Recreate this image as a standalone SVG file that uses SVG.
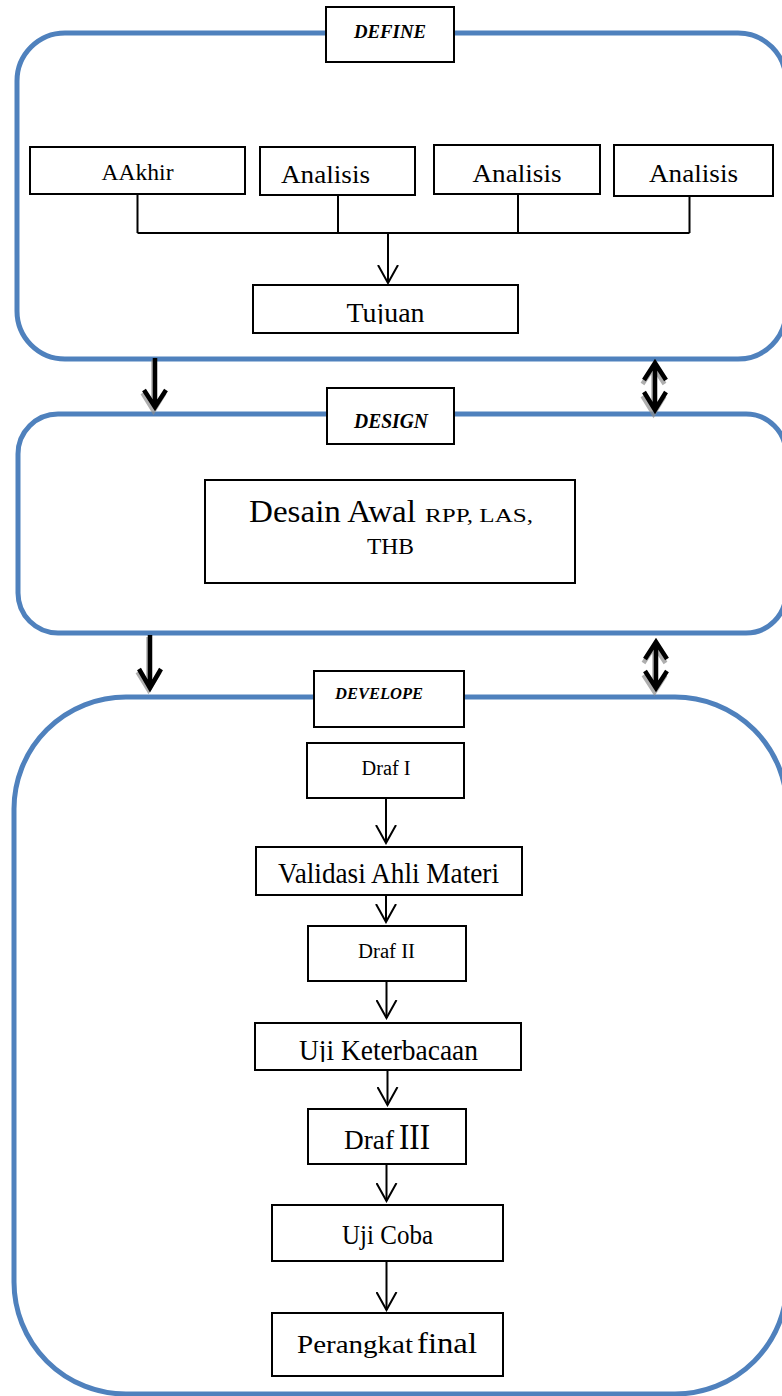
<svg xmlns="http://www.w3.org/2000/svg" width="782" height="1396" viewBox="0 0 782 1396">
<style>
.cont{fill:none;stroke:#4F81BD;stroke-width:5}
.box{fill:#fff;stroke:#000;stroke-width:2}
.t{font-family:"Liberation Serif","Times New Roman",serif;fill:#000}
.h{font-family:"Liberation Serif","Times New Roman",serif;font-weight:bold;font-style:italic;fill:#000}
.ln{stroke:#000;stroke-width:2;fill:none}
.ar{stroke:#000;stroke-width:2;fill:none;marker-end:url(#open)}
.thick{stroke:#000;stroke-width:4.5;fill:none;stroke-linejoin:miter}
.shadow{stroke:#8c8c8c;stroke-width:4.5;fill:none;stroke-linejoin:miter;opacity:0.7}
</style>
<defs>
<marker id="open" viewBox="0 0 20 22" refX="18" refY="11" markerWidth="20" markerHeight="22" markerUnits="userSpaceOnUse" orient="auto">
<path d="M0,1 L18,11 L0,21" fill="none" stroke="#000" stroke-width="2"/>
</marker>
<clipPath id="clipTujuan"><rect x="253" y="285" width="265" height="39"/></clipPath>
<clipPath id="clipUji"><rect x="255" y="1023" width="266" height="39"/></clipPath>
</defs>
<rect width="782" height="1396" fill="#fff"/>

<g id="containers">
<rect id="define-container" class="cont" x="17" y="33" width="769" height="326" rx="48" ry="48"/>
<rect id="design-container" class="cont" x="18" y="414" width="768" height="219" rx="40" ry="40"/>
<rect id="develope-container" class="cont" x="14" y="697" width="773" height="697" rx="112" ry="112"/>
</g>

<g id="connectors">
<path class="ln" d="M137.5,194 V233 M338,195 V233 M518,194 V233 M689.5,196 V233 M137.5,233 H689.5"/>
<path class="ar" d="M388,233 V283"/>
<path class="ar" d="M386,798 V843"/>
<path class="ar" d="M386,895 V922"/>
<path class="ar" d="M386.5,981 V1018"/>
<path class="ar" d="M387.5,1070 V1105"/>
<path class="ar" d="M386.5,1164 V1201"/>
<path class="ar" d="M386.5,1262 V1310"/>
<g id="thick-arrows">
<path class="shadow" d="M153.5,360 V409 M142.5,393 L153.5,411 L164.5,393"/>
<path class="thick" d="M155,358 V407 M144,390 L155,407 L166,390"/>
<path class="shadow" d="M653.5,367 V414 M642.5,384 L653.5,367 L664.5,384 M642.5,396 L653.5,414 L664.5,396"/>
<path class="thick" d="M655,363 V410 M644,380 L655,363 L666,380 M644,392 L655,410 L666,392"/>
<path class="shadow" d="M148.5,637 V690 M137.5,672 L148.5,690 L159.5,672"/>
<path class="thick" d="M150,635 V688 M139,669 L150,688 L161,669"/>
<path class="shadow" d="M654.5,646 V692 M643.5,663 L654.5,646 L665.5,663 M643.5,675 L654.5,692 L665.5,675"/>
<path class="thick" d="M656,642 V688 M645,659 L656,642 L667,659 M645,671 L656,688 L667,671"/>
</g>
</g>

<g id="node-define">
<rect class="box" x="326" y="7" width="128" height="55"/>
<text class="h" x="390" y="38" font-size="19" text-anchor="middle" textLength="72" lengthAdjust="spacingAndGlyphs">DEFINE</text>
</g>
<g id="node-aakhir">
<rect class="box" x="30" y="147" width="215" height="47"/>
<text class="t" x="137.5" y="180" font-size="23.5" text-anchor="middle" textLength="72" lengthAdjust="spacingAndGlyphs">AAkhir</text>
</g>
<g id="node-analisis1">
<rect class="box" x="260" y="147" width="155" height="48"/>
<text class="t" x="325.5" y="183" font-size="25.5" text-anchor="middle" textLength="89" lengthAdjust="spacingAndGlyphs">Analisis</text>
</g>
<g id="node-analisis2">
<rect class="box" x="434" y="145" width="166" height="49"/>
<text class="t" x="517" y="182" font-size="25.5" text-anchor="middle" textLength="89" lengthAdjust="spacingAndGlyphs">Analisis</text>
</g>
<g id="node-analisis3">
<rect class="box" x="614" y="145" width="159" height="51"/>
<text class="t" x="693.5" y="182" font-size="25.5" text-anchor="middle" textLength="89" lengthAdjust="spacingAndGlyphs">Analisis</text>
</g>
<g id="node-tujuan">
<rect class="box" x="253" y="285" width="265" height="48"/>
<text class="t" x="385.5" y="322" font-size="27" text-anchor="middle" textLength="78" lengthAdjust="spacingAndGlyphs" clip-path="url(#clipTujuan)">Tujuan</text>
</g>

<g id="node-design">
<rect class="box" x="327" y="388" width="127" height="56"/>
<text class="h" x="391" y="428" font-size="20" text-anchor="middle" textLength="74" lengthAdjust="spacingAndGlyphs">DESIGN</text>
</g>
<g id="node-desain">
<rect class="box" x="205" y="480" width="370" height="103"/>
<text class="t" x="249" y="522" font-size="32" textLength="167" lengthAdjust="spacingAndGlyphs">Desain Awal</text>
<text class="t" x="425" y="522" font-size="19" textLength="108" lengthAdjust="spacingAndGlyphs">RPP, LAS,</text>
<text class="t" x="390.5" y="554" font-size="23.5" text-anchor="middle" textLength="47" lengthAdjust="spacingAndGlyphs">THB</text>
</g>

<g id="node-develope">
<rect class="box" x="314" y="671" width="150" height="56"/>
<text class="h" x="335" y="699" font-size="16" textLength="88" lengthAdjust="spacingAndGlyphs">DEVELOPE</text>
</g>
<g id="node-draf1">
<rect class="box" x="307" y="743" width="157" height="55"/>
<text class="t" x="386" y="775" font-size="20" text-anchor="middle" textLength="49" lengthAdjust="spacingAndGlyphs">Draf I</text>
</g>
<g id="node-validasi">
<rect class="box" x="256" y="847" width="266" height="48"/>
<text class="t" x="388.5" y="883" font-size="30" text-anchor="middle" textLength="221" lengthAdjust="spacingAndGlyphs">Validasi Ahli Materi</text>
</g>
<g id="node-draf2">
<rect class="box" x="308" y="926" width="158" height="55"/>
<text class="t" x="386.5" y="958" font-size="20" text-anchor="middle" textLength="57" lengthAdjust="spacingAndGlyphs">Draf II</text>
</g>
<g id="node-uji-keterbacaan">
<rect class="box" x="255" y="1023" width="266" height="47"/>
<text class="t" x="388.5" y="1060" font-size="29" text-anchor="middle" textLength="179" lengthAdjust="spacingAndGlyphs" clip-path="url(#clipUji)">Uji Keterbacaan</text>
</g>
<g id="node-draf3">
<rect class="box" x="308" y="1109" width="158" height="55"/>
<text class="t" x="344" y="1149" font-size="28" textLength="50" lengthAdjust="spacingAndGlyphs">Draf</text>
<text class="t" x="399" y="1149" font-size="35" textLength="31" lengthAdjust="spacingAndGlyphs">III</text>
</g>
<g id="node-uji-coba">
<rect class="box" x="272" y="1205" width="231" height="56"/>
<text class="t" x="387.5" y="1244" font-size="27" text-anchor="middle" textLength="91" lengthAdjust="spacingAndGlyphs">Uji Coba</text>
</g>
<g id="node-perangkat">
<rect class="box" x="272" y="1313" width="231" height="63"/>
<text class="t" x="297" y="1353" font-size="25" textLength="116" lengthAdjust="spacingAndGlyphs">Perangkat</text>
<text class="t" x="417" y="1353" font-size="29" textLength="60" lengthAdjust="spacingAndGlyphs">final</text>
</g>
</svg>
